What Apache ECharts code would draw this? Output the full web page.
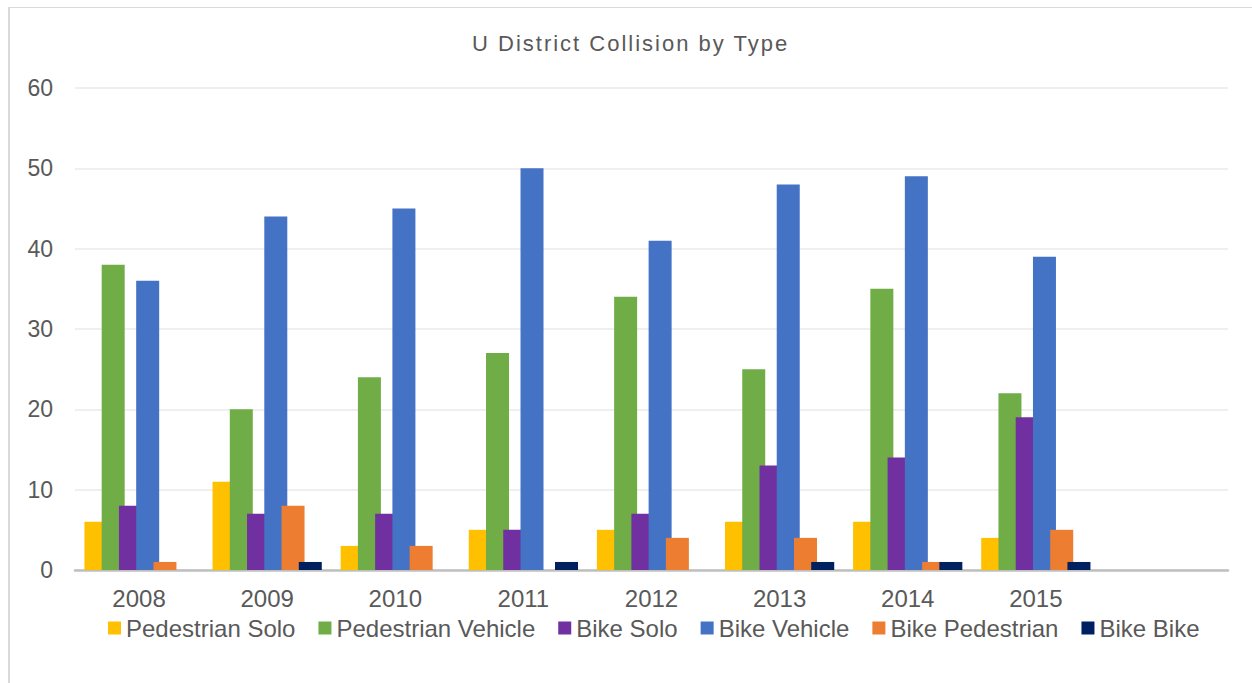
<!DOCTYPE html>
<html>
<head>
<meta charset="utf-8">
<script src="https://cdn.jsdelivr.net/npm/echarts@6/dist/echarts.min.js"></script>
<style>
  html, body { margin: 0; padding: 0; background: #fff; }
  #chart { width: 1252px; height: 683px; }
</style>
</head>
<body>
<div id="chart"></div>
<script>
const TITLE = 'U District Collision by Type';
const categories = ['2008', '2009', '2010', '2011', '2012', '2013', '2014', '2015', ''];
const seriesNames = ['Pedestrian Solo', 'Pedestrian Vehicle', 'Bike Solo', 'Bike Vehicle', 'Bike Pedestrian', 'Bike Bike'];
const pedestrianSolo    = [6, 11, 3, 5, 5, 6, 6, 4];
const pedestrianVehicle = [38, 20, 24, 27, 34, 25, 35, 22];
const bikeSolo          = [8, 7, 7, 5, 7, 13, 14, 19];
const bikeVehicle       = [36, 44, 45, 50, 41, 48, 49, 39];
const bikePedestrian    = [1, 8, 3, 0, 4, 4, 1, 5];
const bikeBike          = [0, 1, 0, 1, 0, 1, 1, 1];
const yTicks = [0, 10, 20, 30, 40, 50, 60];
const colors = ['#FFC000', '#70AD47', '#7030A0', '#4472C4', '#ED7D31', '#002060'];

const allValues = [pedestrianSolo, pedestrianVehicle, bikeSolo, bikeVehicle, bikePedestrian, bikeBike];

const chart = echarts.init(document.getElementById('chart'), null, { renderer: 'svg' });
const font = 'Liberation Sans, Arial, sans-serif';

chart.setOption({
  animation: false,
  color: colors,
  title: {
    text: TITLE,
    left: 472,
    top: 32,
    padding: 0,
    textStyle: { fontFamily: font, fontSize: 22, fontWeight: 'normal', color: '#595959' }
  },
  legend: {
    left: 108,
    top: 616,
    padding: 0,
    itemWidth: 13,
    itemHeight: 13,
    itemGap: 23,
    icon: 'rect',
    textStyle: { fontFamily: font, fontSize: 24, color: '#595959' },
    data: seriesNames
  },
  grid: { left: 75, right: 24, top: 88, bottom: 113 },
  xAxis: {
    type: 'category',
    data: categories,
    axisTick: { show: false },
    axisLine: { lineStyle: { color: '#BFBFBF', width: 2.5 } },
    axisLabel: { fontFamily: font, fontSize: 24, color: '#595959', margin: 16 },
    splitLine: { show: false }
  },
  yAxis: {
    type: 'value',
    min: yTicks[0],
    max: yTicks[yTicks.length - 1],
    interval: 10,
    axisLine: { show: false },
    axisTick: { show: false },
    axisLabel: { fontFamily: font, fontSize: 23, color: '#595959', margin: 22 },
    splitLine: { lineStyle: { color: '#EFEFEF', width: 2 } }
  },
  graphic: [
    { type: 'line', shape: { x1: 9, y1: 7, x2: 9, y2: 700 }, style: { stroke: '#D9D9D9', lineWidth: 2 }, silent: true },
    { type: 'line', shape: { x1: 8, y1: 7.5, x2: 1260, y2: 7.5 }, style: { stroke: '#D9D9D9', lineWidth: 1 }, silent: true }
  ],
  series: seriesNames.map((name, i) => ({
    name: name,
    type: 'bar',
    data: allValues[i],
    barWidth: 23,
    barGap: '-25%',
    itemStyle: { color: colors[i] }
  }))
});

document.querySelectorAll('#chart text').forEach(t => {
  if (t.textContent === TITLE) t.style.letterSpacing = '2px';
});
</script>
</body>
</html>
